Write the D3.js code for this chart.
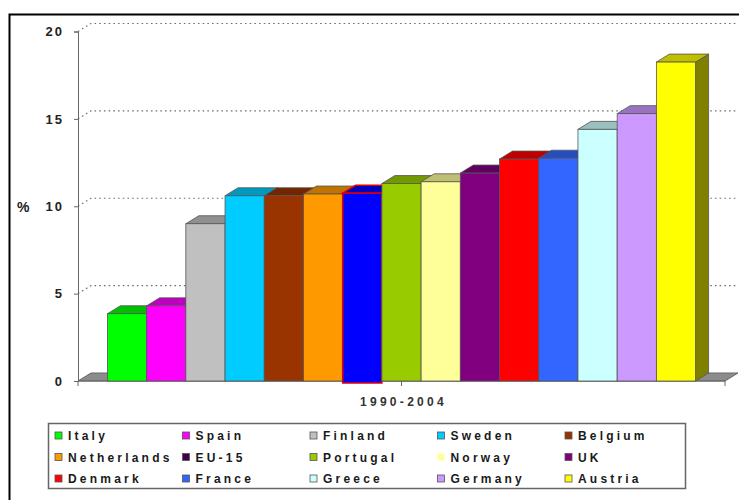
<!DOCTYPE html>
<html>
<head>
<meta charset="utf-8">
<script src="https://cdn.jsdelivr.net/npm/d3@7"></script>
<style>
  html, body { margin: 0; padding: 0; background: #fff; }
  svg { display: block; font-family: "Liberation Sans", Arial, sans-serif; }
</style>
</head>
<body>
<svg id="chart" width="739" height="500"></svg>
<script>
// Countries, in drawing order
const countries = ["Italy", "Spain", "Finland", "Sweden", "Belgium", "Netherlands", "EU-15",
  "Portugal", "Norway", "UK", "Denmark", "France", "Greece", "Germany", "Austria"];
// Percentage for 1990-2004
const values = [3.85, 4.3, 9.0, 10.6, 10.6, 10.7, 10.75, 11.3, 11.4, 11.9, 12.7, 12.75, 14.4, 15.3, 18.25];
// Bar fills and legend swatch fills
const barColors = ["#00FF00", "#FF00FF", "#C0C0C0", "#00CCFF", "#993300", "#FF9900", "#0000FF",
  "#99CC00", "#FFFF99", "#800080", "#FF0000", "#3366FF", "#CCFFFF", "#CC99FF", "#FFFF00"];
const swatchColors = ["#00FF00", "#FF00FF", "#C0C0C0", "#00CCFF", "#993300", "#FF9900", "#400050",
  "#99CC00", "#FFFF99", "#800080", "#FF0000", "#3366FF", "#CCFFFF", "#CC99FF", "#FFFF00"];
const yTicks = [0, 5, 10, 15, 20];
const categoryLabel = "1990-2004";

const svg = d3.select("#chart");

// Outer frame (only top and left edges fall inside the view)
svg.append("rect").attr("x", 9.5).attr("y", 14.5).attr("width", 900).attr("height", 600)
  .attr("fill", "none").attr("stroke", "#000").attr("stroke-width", 2);

const x0 = 78, x1 = 725;
const depth = { dx: 13, dy: -8 };
const y = d3.scaleLinear().domain([0, 20]).range([381, 31.5]);
const x = d3.scaleBand().domain(countries).range([x0, x1]).paddingInner(0).paddingOuter(0.75);

function shade(c, k) {
  const r = d3.rgb(c);
  return d3.rgb(r.r * k, r.g * k, r.b * k).formatHex();
}

// Back-wall gridlines with their diagonal lead-in from the axis
const grid = svg.append("g").attr("stroke", "#6e6e6e").attr("stroke-width", 1.2)
  .attr("stroke-dasharray", "1.6,3.1").attr("fill", "none");
yTicks.filter(t => t > 0).forEach(t => {
  grid.append("path").attr("d",
    `M${x0},${y(t)} L${x0 + depth.dx},${y(t) + depth.dy} L${x1 + depth.dx},${y(t) + depth.dy}`);
});

// Floor
svg.append("path")
  .attr("d", `M${x0},${y(0)} L${x1},${y(0)} L${x1 + depth.dx},${y(0) + depth.dy} L${x0 + depth.dx},${y(0) + depth.dy} Z`)
  .attr("fill", "#8c8c8c").attr("stroke", "#666").attr("stroke-width", 1);

// Y axis
const yAxis = svg.append("g").attr("transform", `translate(${x0},0)`)
  .call(d3.axisLeft(y).tickValues(yTicks).tickSize(4).tickPadding(10).tickFormat(d3.format("d")));
yAxis.select(".domain").attr("stroke", "#666");
yAxis.selectAll(".tick line").attr("stroke", "#666");
yAxis.selectAll(".tick text").attr("fill", "#222").attr("font-size", 13).attr("font-weight", "bold")
  .attr("letter-spacing", "2px").attr("font-family", "Liberation Sans, Arial, sans-serif");

// X axis baseline with ticks at the ends and centre
svg.append("line").attr("x1", x0).attr("x2", x1).attr("y1", y(0)).attr("y2", y(0))
  .attr("stroke", "#666");
[x0, (x0 + x1) / 2, x1].forEach(tx => {
  svg.append("line").attr("x1", tx).attr("x2", tx).attr("y1", y(0)).attr("y2", y(0) + 5)
    .attr("stroke", "#666");
});

// 3D bars, painted left to right so each front hides the neighbour's side
const bars = svg.append("g");
countries.forEach((c, i) => {
  const bx = x(c), bw = x.bandwidth(), top = y(values[i]), base = y(0);
  const g = bars.append("g");
  const edge = c === "EU-15" ? "#e00000" : "#555";
  const ew = c === "EU-15" ? 1.5 : 0.8;
  // right side
  g.append("path")
    .attr("d", `M${bx + bw},${top} L${bx + bw + depth.dx},${top + depth.dy} L${bx + bw + depth.dx},${base + depth.dy} L${bx + bw},${base} Z`)
    .attr("fill", shade(barColors[i], 0.5)).attr("stroke", "#555").attr("stroke-width", 0.8);
  // top
  g.append("path")
    .attr("d", `M${bx},${top} L${bx + depth.dx},${top + depth.dy} L${bx + bw + depth.dx},${top + depth.dy} L${bx + bw},${top} Z`)
    .attr("fill", shade(barColors[i], 0.75)).attr("stroke", edge).attr("stroke-width", ew);
  // front
  g.append("rect").attr("x", bx).attr("y", top).attr("width", bw)
    .attr("height", (c === "EU-15" ? base + 2 : base) - top)
    .attr("fill", barColors[i]).attr("stroke", edge).attr("stroke-width", ew);
});

// Axis captions
svg.append("text").attr("x", 17).attr("y", 212).attr("font-size", 14).attr("font-weight", "bold")
  .attr("fill", "#222").text("%");
svg.append("text").attr("x", (x0 + x1) / 2 + 2).attr("y", 406).attr("text-anchor", "middle")
  .attr("font-size", 12).attr("font-weight", "bold").attr("letter-spacing", "3.3px")
  .attr("fill", "#333").text(categoryLabel);

// Legend
const legend = svg.append("g");
legend.append("rect").attr("x", 48.5).attr("y", 423.5).attr("width", 637).attr("height", 65)
  .attr("fill", "#fff").attr("stroke", "#666").attr("stroke-width", 1.5);
countries.forEach((c, i) => {
  const col = i % 5, row = Math.floor(i / 5);
  const lx = 55 + col * 127.5, ly = 440 + row * 21.5;
  legend.append("rect").attr("x", lx).attr("y", ly - 8).attr("width", 7).attr("height", 7)
    .attr("fill", swatchColors[i]).attr("stroke", c === "Norway" ? "none" : "#555")
    .attr("stroke-width", 0.8);
  legend.append("text").attr("x", lx + 13).attr("y", ly).attr("font-size", 12)
    .attr("font-weight", "bold").attr("letter-spacing", "3.2px").attr("fill", "#1a1a1a").text(c);
});
</script>
</body>
</html>
